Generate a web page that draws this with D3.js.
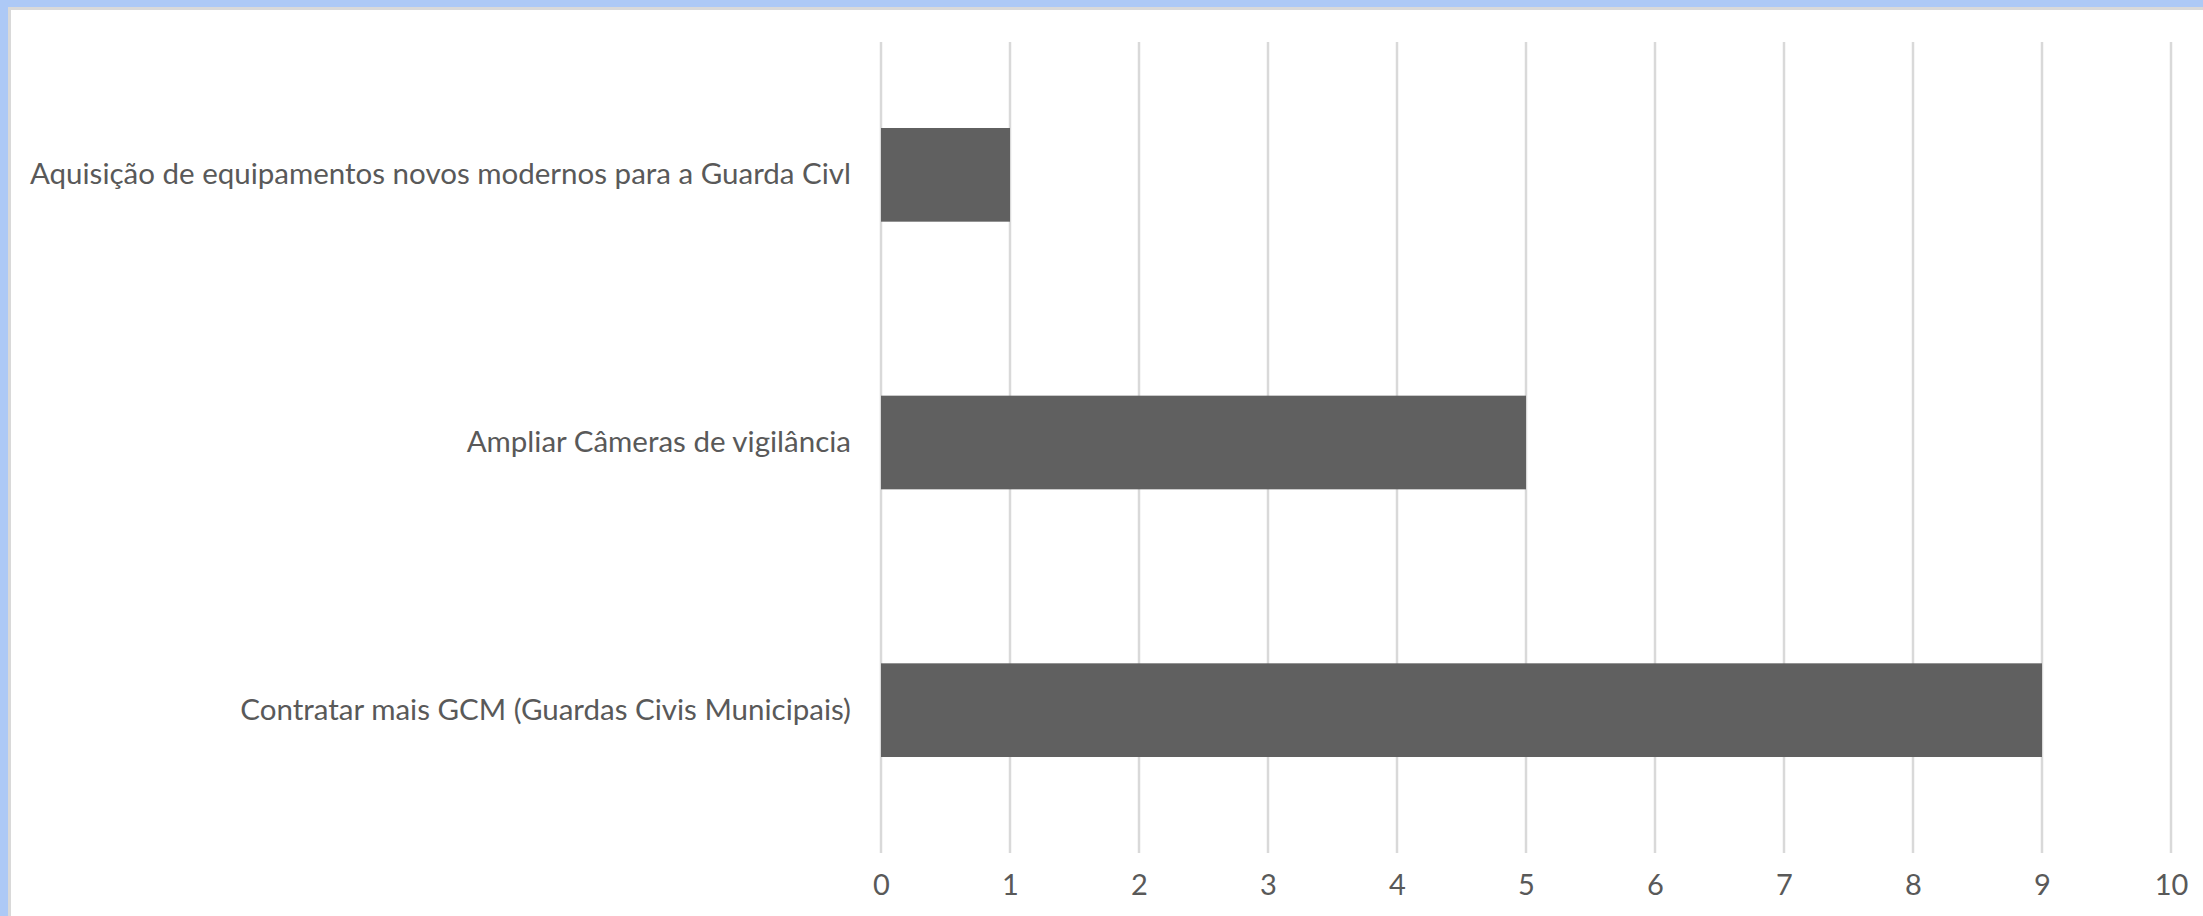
<!DOCTYPE html>
<html>
<head>
<meta charset="utf-8">
<script src="https://cdn.jsdelivr.net/npm/d3@7"></script>
<style>
  html, body { margin: 0; padding: 0; background: #fff; }
  svg { display: block; }
</style>
</head>
<body>
<svg id="chart" width="2203" height="916"></svg>
<script>
const categories = [
  "Aquisição de equipamentos novos modernos para a Guarda Civl",
  "Ampliar Câmeras de vigilância",
  "Contratar mais GCM (Guardas Civis Municipais)"
];
const values = [1, 5, 9];
const tickValues = [0, 1, 2, 3, 4, 5, 6, 7, 8, 9, 10];

const W = 2203, H = 916;
const svg = d3.select("#chart");
const font = "Lato, 'Open Sans', sans-serif";

// frame
svg.append("rect").attr("x", 0).attr("y", 0).attr("width", W).attr("height", H).attr("fill", "#fff");
svg.append("rect").attr("x", 0).attr("y", 0).attr("width", W).attr("height", 7).attr("fill", "#adc9f6");
svg.append("rect").attr("x", 0).attr("y", 0).attr("width", 8).attr("height", H).attr("fill", "#adc9f6");
svg.append("rect").attr("x", 8).attr("y", 7).attr("width", W - 8).attr("height", 3).attr("fill", "#d9d9d9");
svg.append("rect").attr("x", 8).attr("y", 7).attr("width", 3).attr("height", H - 7).attr("fill", "#d9d9d9");

const plot = { left: 881, right: 2171, top: 42, bottom: 853 };

const x = d3.scaleLinear().domain([0, 10]).range([plot.left, plot.right]);
const y = d3.scaleBand().domain(categories).range([41, 844])
  .paddingInner(0.65).paddingOuter(0.325);

// gridlines
svg.append("g").selectAll("line").data(tickValues).join("line")
  .attr("x1", d => x(d)).attr("x2", d => x(d))
  .attr("y1", plot.top).attr("y2", plot.bottom)
  .attr("stroke", "#d9d9d9").attr("stroke-width", 2.5);

// bars
svg.append("g").selectAll("rect").data(values).join("rect")
  .attr("x", x(0))
  .attr("y", (d, i) => y(categories[i]))
  .attr("width", d => x(d) - x(0))
  .attr("height", y.bandwidth())
  .attr("fill", "#606060");

// x axis labels
const xAxis = d3.axisBottom(x).tickValues(tickValues).tickSize(0).tickPadding(0).tickFormat(d3.format("d"));
const gx = svg.append("g").attr("transform", `translate(0, ${plot.bottom + 21})`).call(xAxis);
gx.select(".domain").remove();
gx.selectAll("text").attr("font-family", font).attr("font-size", 29).attr("fill", "#595959");

// y axis labels
const yAxis = d3.axisLeft(y).tickSize(0).tickPadding(30);
const gy = svg.append("g").attr("transform", `translate(${plot.left}, 0)`).call(yAxis);
gy.select(".domain").remove();
gy.selectAll("text").attr("font-family", font).attr("font-size", 29.5).attr("fill", "#595959");
</script>
</body>
</html>
